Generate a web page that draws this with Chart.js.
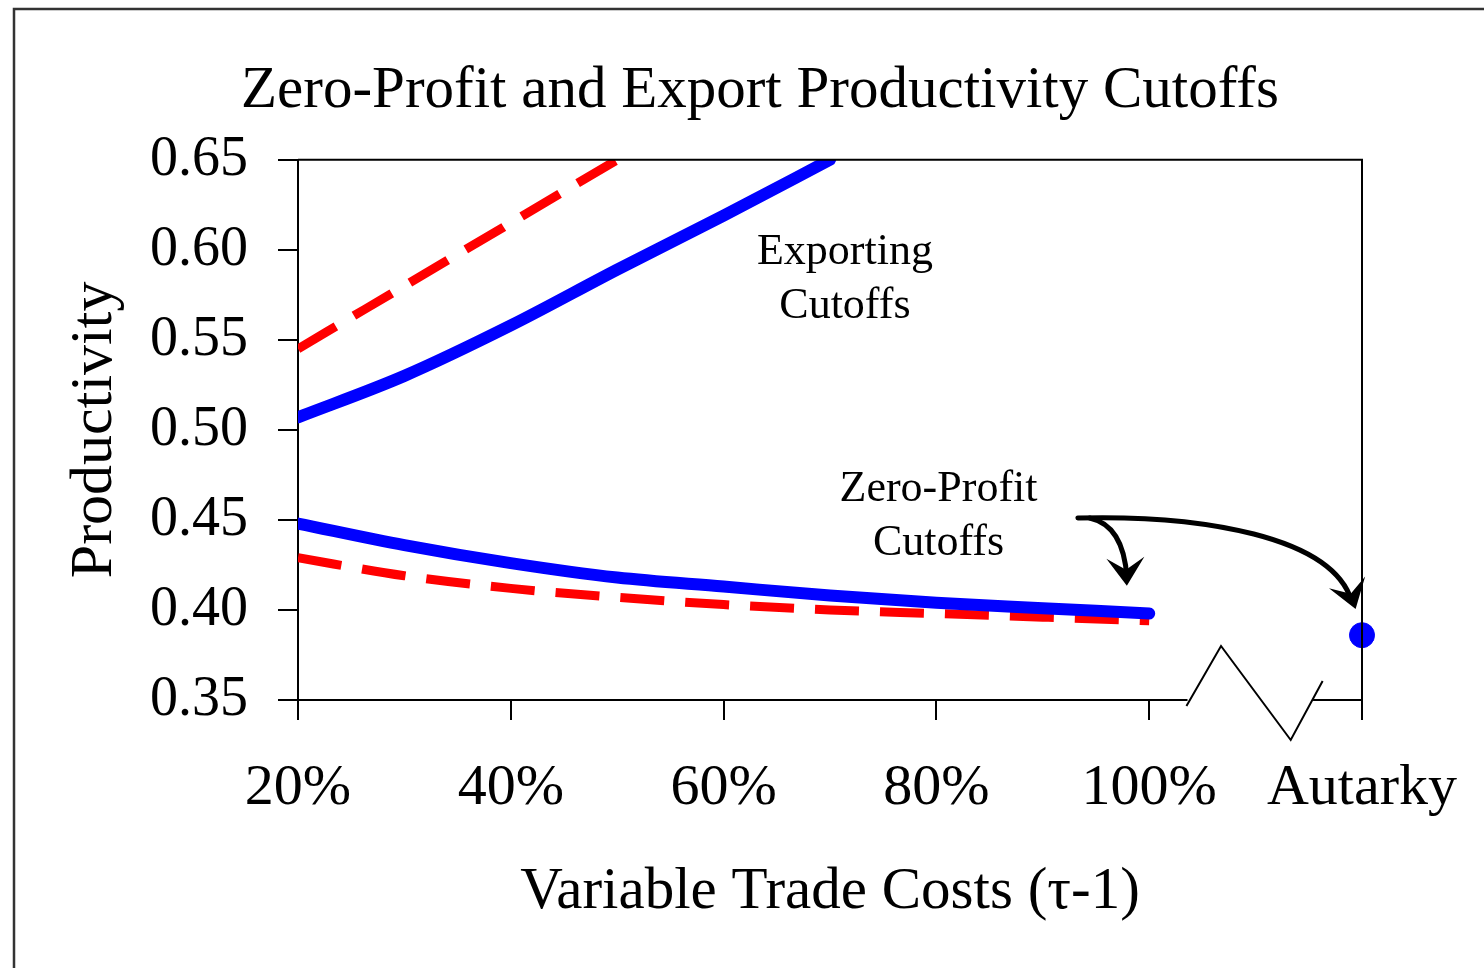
<!DOCTYPE html>
<html>
<head>
<meta charset="utf-8">
<script src="https://cdn.jsdelivr.net/npm/chart.js@4.4.1/dist/chart.umd.min.js"></script>
<style>
  html, body { margin: 0; padding: 0; background: #fff; }
  #wrap { width: 1484px; height: 968px; position: relative; }
</style>
</head>
<body>
<div id="wrap"><canvas id="chart" width="1484" height="968"></canvas></div>
<script>
// trade cost in percent (tau - 1)
const tradeCosts = [20, 30, 40, 50, 60, 70, 80, 90, 100];
// exporting cutoffs (run off the top of the plot)
const exportSolid = [0.507, 0.530, 0.558, 0.589, 0.619, 0.650];
const exportDashed = [0.545, 0.580, 0.615, 0.650];
// zero-profit cutoffs
const zeroSolid = [0.448, 0.436, 0.426, 0.418, 0.413, 0.408, 0.404, 0.401, 0.398];
const zeroDashed = [0.429, 0.419, 0.412, 0.407, 0.403, 0.400, 0.398, 0.396, 0.394];
// autarky point sits on the last tick
const autarkyX = [120];
const autarkyValue = [0.386];

const xTicks = [20, 40, 60, 80, 100, 120];
const xTickLabels = ['20%', '40%', '60%', '80%', '100%', 'Autarky'];
const yTicks = [0.35, 0.40, 0.45, 0.50, 0.55, 0.60, 0.65];

const FONT = "'Liberation Serif', 'Times New Roman', serif";
const BLUE = '#0000ff';
const RED = '#ff0000';

function toPoints(xs, ys) {
    return ys.map((v, i) => ({ x: xs[i], y: v }));
}

function arrowHead(ctx, x, y, angle) {
    ctx.save();
    ctx.translate(x, y);
    ctx.rotate(angle);
    ctx.beginPath();
    ctx.moveTo(0, 0);
    ctx.lineTo(-28, -19);
    ctx.lineTo(-16, 0);
    ctx.lineTo(-28, 19);
    ctx.closePath();
    ctx.fill();
    ctx.restore();
}

// frame, broken axis, arrows and labels
const decorations = {
    id: 'decorations',
    afterDraw(chart) {
        const ctx = chart.ctx;
        const area = chart.chartArea;
        const xs = chart.scales.x;
        const ys = chart.scales.y;
        const px = v => xs.getPixelForValue(v);
        const py = v => ys.getPixelForValue(v);

        ctx.save();
        // outer frame (runs off right and bottom)
        ctx.strokeStyle = '#333';
        ctx.lineWidth = 2.5;
        ctx.beginPath();
        ctx.moveTo(14, 968);
        ctx.lineTo(14, 9);
        ctx.lineTo(1484, 9);
        ctx.stroke();

        // plot border: top, right, and bottom axis with a break
        ctx.strokeStyle = '#000';
        ctx.lineWidth = 2;
        ctx.beginPath();
        ctx.moveTo(area.left, area.top);
        ctx.lineTo(area.right, area.top);
        ctx.lineTo(area.right, area.bottom);
        ctx.moveTo(area.left, area.bottom);
        ctx.lineTo(px(103.6), area.bottom);
        ctx.moveTo(px(115.4), area.bottom);
        ctx.lineTo(area.right, area.bottom);
        ctx.stroke();

        // zigzag break mark
        ctx.beginPath();
        ctx.moveTo(px(103.5), area.bottom + 6);
        ctx.lineTo(px(106.75), area.bottom - 54);
        ctx.lineTo(px(113.3), area.bottom + 40);
        ctx.lineTo(px(116.3), area.bottom - 19);
        ctx.stroke();

        // arrows from the zero-profit label
        ctx.lineWidth = 5;
        ctx.lineCap = 'round';
        ctx.strokeStyle = '#000';
        ctx.fillStyle = '#000';
        const sx = px(93.3), sy = py(0.4511);

        ctx.beginPath();
        ctx.moveTo(sx, sy);
        const c1x = px(104.9), c1y = py(0.4528);
        const c2x = px(117.2), c2y = py(0.441);
        const tx = px(119.4), ty = py(0.4005);
        ctx.bezierCurveTo(c1x, c1y, c2x, c2y, tx - 4, ty - 8);
        ctx.stroke();
        arrowHead(ctx, tx, ty, Math.atan2(ty - c2y, tx - c2x));

        ctx.beginPath();
        const s2x = px(94.4);
        ctx.moveTo(s2x, sy);
        const q1x = px(97.6), q1y = py(0.447);
        const t2x = px(97.9), t2y = py(0.4135);
        ctx.quadraticCurveTo(q1x, q1y, t2x, t2y - 8);
        ctx.stroke();
        arrowHead(ctx, t2x, t2y, Math.atan2(t2y - q1y, t2x - q1x));

        // curve labels
        ctx.fillStyle = '#000';
        ctx.font = '44px ' + FONT;
        ctx.textAlign = 'center';
        ctx.textBaseline = 'middle';
        ctx.fillText('Exporting', px(71.4), py(0.5983));
        ctx.fillText('Cutoffs', px(71.4), py(0.5683));
        ctx.fillText('Zero-Profit', px(80.2), py(0.4672));
        ctx.fillText('Cutoffs', px(80.2), py(0.4367));
        ctx.restore();
    }
};

const ctx = document.getElementById('chart').getContext('2d');
new Chart(ctx, {
    type: 'line',
    data: {
        datasets: [
            {
                data: toPoints(tradeCosts, exportSolid),
                borderColor: BLUE,
                borderWidth: 12,
                borderCapStyle: 'round',
                pointRadius: 0,
                cubicInterpolationMode: 'monotone'
            },
            {
                data: toPoints(tradeCosts, exportDashed),
                borderColor: RED,
                borderWidth: 9,
                borderDash: [44, 21],
                pointRadius: 0,
                cubicInterpolationMode: 'monotone'
            },
            {
                data: toPoints(tradeCosts, zeroSolid),
                borderColor: BLUE,
                borderWidth: 12,
                borderCapStyle: 'round',
                pointRadius: 0,
                cubicInterpolationMode: 'monotone'
            },
            {
                data: toPoints(tradeCosts, zeroDashed),
                borderColor: RED,
                borderWidth: 9,
                borderDash: [44, 21],
                pointRadius: 0,
                cubicInterpolationMode: 'monotone'
            },
            {
                data: toPoints(autarkyX, autarkyValue),
                showLine: false,
                pointRadius: 12.5,
                pointBackgroundColor: BLUE,
                pointBorderColor: BLUE,
                clip: false
            }
        ]
    },
    options: {
        responsive: false,
        animation: false,
        events: [],
        layout: { padding: { left: 36, right: 0, top: 24, bottom: 0 } },
        plugins: {
            legend: { display: false },
            tooltip: { enabled: false },
            title: {
                display: true,
                text: 'Zero-Profit and Export Productivity Cutoffs',
                color: '#000',
                font: { family: FONT, size: 59, weight: 'normal' },
                padding: { top: 32, bottom: 33 }
            }
        },
        scales: {
            x: {
                type: 'linear',
                min: 20,
                max: 120,
                afterFit: s => { s.height = 268; s.paddingLeft = 0; s.paddingRight = 0; },
                afterBuildTicks: s => { s.ticks = xTicks.map(v => ({ value: v })); },
                border: { display: false },
                grid: { drawOnChartArea: false, tickLength: 20, color: '#000', lineWidth: 2 },
                ticks: {
                    color: '#000',
                    padding: 34,
                    maxRotation: 0,
                    font: { family: FONT, size: 58 },
                    callback: v => xTickLabels[xTicks.indexOf(v)]
                },
                title: {
                    display: true,
                    text: 'Variable Trade Costs (\u03c4-1)',
                    color: '#000',
                    font: { family: FONT, size: 59 },
                    padding: { top: 0, bottom: 40 }
                }
            },
            y: {
                min: 0.35,
                max: 0.65,
                afterFit: s => { s.width = 262; },
                afterBuildTicks: s => { s.ticks = yTicks.map(v => ({ value: v })); },
                border: { display: true, color: '#000', width: 2 },
                grid: { drawOnChartArea: false, tickLength: 20, color: '#000', lineWidth: 2 },
                ticks: {
                    color: '#000',
                    padding: 30,
                    font: { family: FONT, size: 56 },
                    callback: v => v.toFixed(2)
                },
                title: {
                    display: true,
                    text: 'Productivity',
                    color: '#000',
                    font: { family: FONT, size: 60 },
                    padding: { top: 23, bottom: 0 }
                }
            },
            // empty right-hand box that keeps the plot's right edge in place
            yRight: {
                position: 'right',
                display: true,
                afterFit: s => { s.width = 122; },
                border: { display: false },
                grid: { display: false },
                ticks: { display: false }
            }
        }
    },
    plugins: [decorations]
});
</script>
</body>
</html>
